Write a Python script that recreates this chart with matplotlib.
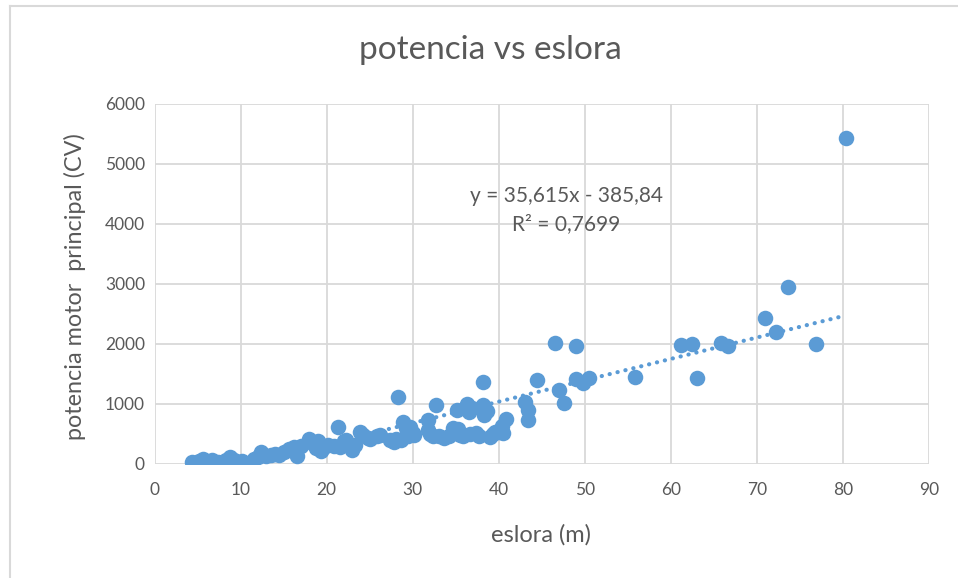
import matplotlib
matplotlib.use("Agg")
import matplotlib.pyplot as plt
from matplotlib.lines import Line2D
import numpy as np

plt.rcParams['font.family'] = ['Lato', 'DejaVu Sans']

title = "potencia vs eslora"
xlabel = "eslora (m)"
ylabel = "potencia motor  principal (CV)"
eq_text = "y = 35,615x - 385,84\nR² = 0,7699"
slope = 35.615
intercept = -385.84

eslora = [
    4.3, 4.8, 5.2, 5.6, 5.9, 6.3, 6.7, 7.0, 7.4, 7.8, 8.3, 8.8, 9.2, 9.8, 10.2,
    11.5, 12.0, 12.4, 12.9, 13.5, 14.0, 14.5, 15.0, 15.6, 16.2, 16.5, 17.0,
    17.9, 18.4, 18.8, 19.0, 19.3, 19.6, 20.2, 20.8, 21.35, 21.5, 22.0, 22.3, 22.9,
    23.3, 23.9, 24.2, 24.8, 25.0, 25.8, 26.2, 27.4, 27.8, 28.1, 28.3, 28.6, 28.9,
    29.2, 29.7, 29.4, 30.0, 30.1,
    31.8, 31.8, 32.0, 32.4, 32.7, 33.0, 33.6, 34.2, 34.7, 35.1, 35.3, 35.5, 35.9,
    36.3, 36.5, 36.7, 36.9, 37.4, 37.7, 38.14, 38.2, 38.3, 38.6, 39.0, 39.3, 39.6,
    40.15, 40.4, 40.5, 40.9,
    43.06, 43.4, 43.4, 44.4, 46.5, 47.0, 47.6, 49.0, 49.0, 49.8, 50.5,
    55.8, 61.2, 62.5, 63.0, 65.8, 66.7, 71.0, 72.2, 73.6, 76.9, 80.4,
]
potencia = [
    30, 15, 50, 80, 20, 40, 60, 10, 35, 30, 70, 110, 60, 40, 55,
    90, 110, 200, 130, 150, 170, 150, 200, 250, 280, 130, 300,
    420, 350, 270, 380, 220, 260, 310, 300, 620, 280, 380, 400, 230,
    310, 540, 480, 440, 420, 470, 480, 400, 360, 420, 1110, 400, 700,
    600, 620, 470, 520, 480,
    730, 570, 500, 460, 980, 460, 430, 470, 600, 900, 580, 480, 460,
    1000, 870, 500, 930, 510, 460, 1360, 980, 820, 880, 450, 500, 540,
    540, 640, 510, 750,
    1030, 900, 740, 1400, 2010, 1230, 1010, 1960, 1410, 1345, 1440,
    1450, 1980, 2000, 1430, 2020, 1960, 2440, 2200, 2950, 2000, 5440,
]
xticks = [0, 10, 20, 30, 40, 50, 60, 70, 80, 90]
yticks = [0, 1000, 2000, 3000, 4000, 5000, 6000]

blue = "#5B9BD5"
grey_text = "#595959"
grid_c = "#D9D9D9"

W, H = 958, 578
fig = plt.figure(figsize=(W/100, H/100), dpi=100)
ax = fig.add_axes([154.7/W, 1-464/H, (928.7-154.7)/W, 360/H])

ax.scatter(eslora, potencia, s=125, color=blue, zorder=3, linewidths=0)

xs = np.array([min(eslora), max(eslora)])
ax.plot(xs, slope*xs + intercept, color=blue, lw=3.0,
        linestyle=(0, (0.05, 1.9)), dash_capstyle='round', zorder=2)

ax.set_xlim(0, 90)
ax.set_ylim(0, 6000)
ax.set_xticks(xticks)
ax.set_yticks(yticks)
for s in ax.spines.values():
    s.set_visible(False)
ax.grid(True, color=grid_c, lw=1.3, zorder=0)
ax.set_axisbelow(True)
ax.tick_params(length=0, labelsize=12.5, colors=grey_text)
ax.tick_params(axis='x', pad=13)
ax.tick_params(axis='y', pad=7)

fig.text(541/W, 1-535/H, xlabel, ha='center', va='center', fontsize=17, color=grey_text)
fig.text(75/W, 1-287/H, ylabel, ha='center', va='center', rotation=90,
         fontsize=16.8, color=grey_text)
fig.text(490/W, 1-50/H, title, ha='center', va='center', fontsize=24, color=grey_text)
fig.text(566/W, 1-210/H, eq_text, ha='center', va='center',
         fontsize=15, color=grey_text, linespacing=1.45)

fig.add_artist(Line2D([10/W, 10/W], [0, 1-6/H], color=grid_c, lw=1.5))
fig.add_artist(Line2D([10/W, 1], [1-6/H, 1-6/H], color=grid_c, lw=1.5))

fig.savefig("out.png", dpi=100)
